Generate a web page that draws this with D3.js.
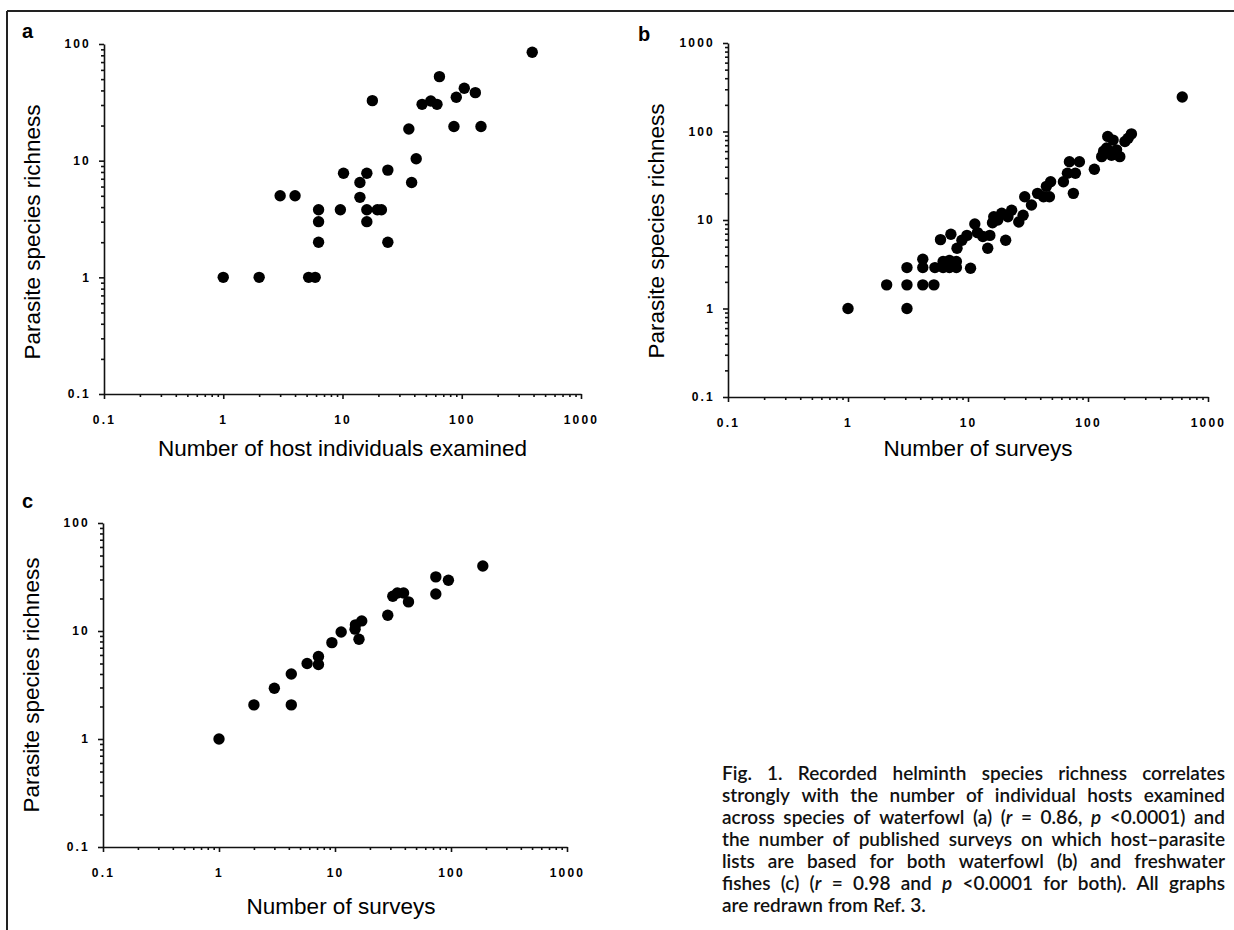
<!DOCTYPE html>
<html>
<head>
<meta charset="utf-8">
<script src="https://cdn.jsdelivr.net/npm/d3@7"></script>
<style>
body { margin: 0; background: #fff; }
svg { display: block; }
.tk text { font-family: "Liberation Sans", Arial, sans-serif; font-weight: bold; font-size: 12px; letter-spacing: 2.2px; fill: #000; }
.tk path, .tk line { stroke: #111; stroke-width: 1.6; }
.ttl { font-family: "Liberation Sans", Arial, sans-serif; font-size: 22.5px; fill: #000; }
.lbl { font-family: "Liberation Sans", Arial, sans-serif; font-size: 20px; font-weight: bold; fill: #000; }
.cap { font-family: Lato, "Open Sans", sans-serif; font-size: 19px; font-weight: 600; fill: #111; }
</style>
</head>
<body>
<script>
// tick values / labels shared by every panel
var majorTicks = [0.1, 1, 10, 100, 1000]
var majorLabels = ["0.1", "1", "10", "100", "1000"]

// (a) waterfowl: host individuals examined vs parasite species richness
var aHosts =    [1, 2, 5.2, 5.9, 3, 4, 6.3, 6.3, 6.3, 9.6, 10.2, 14, 14, 16, 16, 16, 17.8, 19.6, 21.2, 24, 24, 36, 38, 41.5, 46.5, 55, 62, 65, 86, 90, 105, 130, 145, 390]
var aRichness = [1, 1, 1, 1, 5, 5, 3.8, 3, 2, 3.8, 7.8, 6.5, 4.85, 7.8, 3.8, 3, 32.7, 3.8, 3.8, 8.3, 2, 18.7, 6.5, 10.4, 30.4, 32.5, 30.4, 52.5, 19.6, 35, 41.7, 38.3, 19.6, 85]

// (b) waterfowl: number of surveys vs parasite species richness
var bSurveys =  [1, 2.1, 3.1, 3.1, 3.1, 4.2, 5.2, 4.2, 4.2, 5.3, 6.2, 7, 8, 6.2, 7, 8, 10.5, 5.9, 7.2, 8.1, 8.9, 9.8, 11.4, 12, 13.3, 14.6, 15.2, 16, 16.4, 17.7, 19.1, 20.6, 21.5, 23.1, 26.5, 28.8, 29.7, 33.8, 38, 42.6, 47.7, 48.8, 45, 62.4, 67.4, 70, 84.8, 78.5, 75.5, 113, 130, 135, 143, 146, 162, 157, 173, 184, 203, 216, 230, 610]
var bRichness = [1, 1.85, 1, 1.85, 2.9, 1.85, 1.85, 2.9, 3.6, 2.9, 2.9, 2.9, 2.9, 3.4, 3.5, 3.4, 2.85, 6, 6.9, 4.8, 5.9, 6.7, 9, 7.2, 6.5, 4.8, 6.7, 9.3, 10.9, 10, 11.9, 5.9, 10.9, 12.9, 9.5, 11.3, 18.3, 14.8, 20, 18.3, 18.3, 27, 24, 27, 33.7, 45.6, 45.6, 33.7, 20, 37.4, 52, 60, 65, 88, 80, 54, 62, 52, 77, 84, 94, 245]

// (c) freshwater fishes: number of surveys vs parasite species richness
var cSurveys =  [1, 2, 3, 4.2, 4.2, 5.75, 7.2, 7.2, 9.4, 11.3, 15, 14.9, 17, 16.1, 28.5, 31.5, 34.5, 39, 43, 74, 74, 95, 188]
var cRichness = [1, 2.07, 2.95, 4, 2.07, 5, 5.8, 4.9, 7.8, 9.8, 11.4, 10.4, 12.4, 8.4, 14, 21, 22.5, 22.5, 18.6, 31.7, 22, 29.5, 40]

var captionLines = [
  "Fig. 1. Recorded helminth species richness correlates",
  "strongly with the number of individual hosts examined",
  "across species of waterfowl (a) (_r_ = 0.86, _p_ <0.0001) and",
  "the number of published surveys on which host\u2013parasite",
  "lists are based for both waterfowl (b) and freshwater",
  "fishes (c) (_r_ = 0.98 and _p_ <0.0001 for both). All graphs",
  "are redrawn from Ref. 3."
]

var svg = d3.select("body").append("svg")
  .attr("width", 1234)
  .attr("height", 930)

// frame lines (top and left)
svg.append("line").attr("x1", 7).attr("x2", 1234).attr("y1", 11).attr("y2", 11)
  .attr("stroke", "#222").attr("stroke-width", 2)
svg.append("line").attr("x1", 7).attr("x2", 7).attr("y1", 11).attr("y2", 930)
  .attr("stroke", "#222").attr("stroke-width", 2)

function minors(dom) {
  var v = []
  for (var p = dom[0]; p < dom[1] * 0.999; p *= 10)
    for (var k = 2; k < 10; k++) v.push(p * k)
  return v
}

function panel(o) {
  var x = d3.scaleLog().domain([0.1, 1000]).range(o.xr)
  var y = d3.scaleLog().domain(o.yd).range(o.yr)
  var g = svg.append("g")
  var yTicks = majorTicks.filter(function (d) { return d <= o.yd[1] })
  var yLabels = majorLabels.slice(0, yTicks.length)

  // minor ticks
  g.append("g").attr("class", "tk")
    .attr("transform", "translate(0," + o.yr[0] + ")")
    .call(d3.axisBottom(x).tickValues(minors(x.domain())).tickSize(3).tickFormat(""))
    .select(".domain").remove()
  g.append("g").attr("class", "tk")
    .attr("transform", "translate(" + o.xr[0] + ",0)")
    .call(d3.axisLeft(y).tickValues(minors(y.domain())).tickSize(3).tickFormat(""))
    .select(".domain").remove()

  // major ticks + labels
  g.append("g").attr("class", "tk")
    .attr("transform", "translate(0," + o.yr[0] + ")")
    .call(d3.axisBottom(x).tickValues(majorTicks).tickSize(5).tickSizeOuter(0).tickPadding(16)
      .tickFormat(function (d, i) { return majorLabels[i] }))
  g.append("g").attr("class", "tk")
    .attr("transform", "translate(" + o.xr[0] + ",0)")
    .call(d3.axisLeft(y).tickValues(yTicks).tickSize(5).tickSizeOuter(0).tickPadding(8)
      .tickFormat(function (d, i) { return yLabels[i] }))

  g.selectAll("circle.pt")
    .data(o.xs.map(function (d, i) { return [d, o.ys[i]] }))
    .enter()
    .append("circle")
    .attr("class", "pt")
    .attr("cx", function (d) { return x(d[0]) })
    .attr("cy", function (d) { return y(d[1]) })
    .attr("r", 5.7)
    .attr("fill", "#000")

  var xm = (o.xr[0] + o.xr[1]) / 2
  g.append("text").attr("class", "ttl")
    .attr("x", xm + o.tdx).attr("y", o.ty)
    .attr("text-anchor", "middle")
    .text(o.xTitle)
  g.append("text").attr("class", "ttl")
    .attr("transform", "translate(" + (o.xr[0] - 64) + "," + o.ymid + ") rotate(-90)")
    .attr("text-anchor", "middle")
    .text("Parasite species richness")
  g.append("text").attr("class", "lbl")
    .attr("x", o.lx).attr("y", o.ly)
    .text(o.label)
}

panel({ xr: [104, 581], yr: [394, 44], yd: [0.1, 100], xs: aHosts, ys: aRichness, ty: 456,
  xTitle: "Number of host individuals examined", tdx: 0, ymid: 232, label: "a", lx: 22, ly: 38 })
panel({ xr: [728, 1208], yr: [397, 43], yd: [0.1, 1000], xs: bSurveys, ys: bRichness, ty: 456,
  xTitle: "Number of surveys", tdx: 10, ymid: 231, label: "b", lx: 638, ly: 41 })
panel({ xr: [103, 567], yr: [847, 523], yd: [0.1, 100], xs: cSurveys, ys: cRichness, ty: 914,
  xTitle: "Number of surveys", tdx: 6, ymid: 685, label: "c", lx: 22, ly: 508 })

// justified caption
var capLeft = 722, capWidth = 503, capTop = 780, capLead = 22
captionLines.forEach(function (line, li) {
  var words = line.split(" ")
  var gl = svg.append("g")
  var nodes = words.map(function (w) {
    var t = gl.append("text").attr("class", "cap").attr("y", capTop + li * capLead)
    w.split("_").forEach(function (seg, si) {
      if (!seg) return
      t.append("tspan").style("font-style", si % 2 ? "italic" : "normal").text(seg)
    })
    return t
  })
  var widths = nodes.map(function (t) { return t.node().getComputedTextLength() })
  var total = d3.sum(widths)
  var last = li === captionLines.length - 1
  var gap = last ? 5 : (capWidth - total) / (words.length - 1)
  var cx = capLeft
  nodes.forEach(function (t, i) {
    t.attr("x", cx)
    cx += widths[i] + gap
  })
})
</script>
</body>
</html>
